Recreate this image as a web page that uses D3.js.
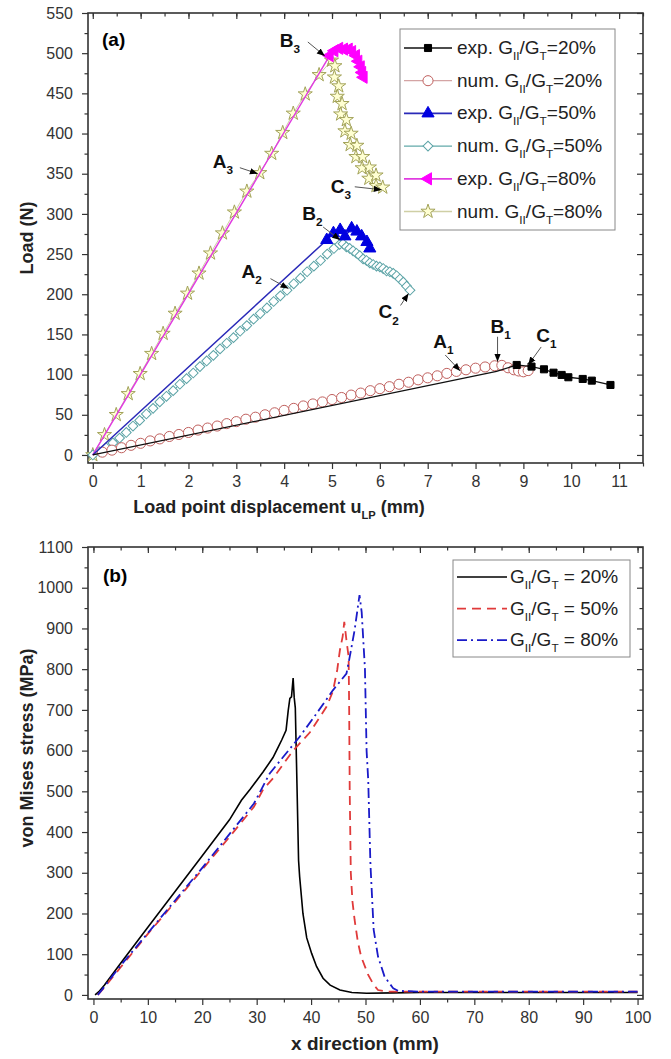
<!DOCTYPE html>
<html><head><meta charset="utf-8">
<script src="https://cdn.jsdelivr.net/npm/d3@7"></script>
<style>
body{margin:0;background:#fff;}
svg{display:block;font-family:Arial,"Liberation Sans",sans-serif;}
.tick text{fill:#333;font-size:16px;}
.tick line{stroke:#333;stroke-width:1.2;}
</style></head><body>
<script>
// ---- panel (a) data : load (N) vs load point displacement (mm)
var exp20X=[0,8.44,8.86,9.17,9.43,9.63,9.80,9.94,10.24,10.43,10.82];
var exp20Y=[0,104,112,110,106.6,102.4,99.6,96.7,94.6,92.5,87.1];
var num20X=[0,0.2,0.4,0.6,0.8,1.0,1.2,1.4,1.6,1.8,2.0,2.2,2.4,2.6,2.8,3.0,3.2,3.4,3.6,3.8,4.0,4.2,4.4,4.6,4.8,5.0,5.2,5.4,5.6,5.8,6.0,6.2,6.4,6.6,6.8,7.0,7.2,7.4,7.6,7.8,8.0,8.2,8.4,8.55,8.68,8.80,8.90,9.00,9.10];
var num20Y=[0,3.5,6,9,12,14.5,17.5,20,23,25.5,28,31,33.5,36,39,41.5,44.5,47,50,52.5,55.5,58,61,63.5,66,69,71.5,74.5,77,80,82.5,85,88,90.5,93.5,96,98.5,101.5,104,106,108,109.5,111,111.5,108.5,106,104.5,103.5,105];
var exp50X=[0,4.89,5.03,5.17,5.27,5.41,5.52,5.62,5.73,5.79];
var exp50Y=[0,267.5,276,280,272,282,278,272,265,257];
var num50X=[0,0.14,0.28,0.42,0.56,0.70,0.84,0.98,1.12,1.26,1.40,1.54,1.68,1.82,1.96,2.10,2.24,2.38,2.52,2.66,2.80,2.94,3.08,3.22,3.36,3.50,3.64,3.78,3.92,4.06,4.20,4.34,4.48,4.62,4.76,4.90,5.04,5.16,5.23,5.30,5.37,5.44,5.51,5.58,5.65,5.72,5.79,5.86,5.93,6.00,6.07,6.14,6.21,6.28,6.35,6.42,6.49,6.56,6.63];
var num50Y=[0,4,9,15,21,28,36,43,51,58,66,73,80,88,95,102,110,117,124,132,139,146,154,161,169,176,183,191,198,205,213,220,228,235,242,250,257,262,263,259,257,254,251,248,244,242,239,237,235,234,232,229,228,226,223,219,215,210,205];
var exp80X=[0,4.95,5.05,5.15,5.25,5.35,5.42,5.50,5.55,5.60,5.63,5.66];
var exp80Y=[0,497,503,506,505,505,502,497,490,483,476,470];
var num80X=[0,0.245,0.49,0.74,0.99,1.23,1.47,1.72,1.98,2.22,2.46,2.71,2.96,3.22,3.49,3.74,3.97,4.19,4.44,4.73,4.99,5.06,5.05,5.14,5.11,5.21,5.18,5.30,5.27,5.40,5.38,5.52,5.50,5.64,5.63,5.78,5.77,5.92,5.92,6.06];
var num80Y=[0,25,50,76,101,126,151,176,201,226,251,276,302,328,351,375,401,425,449,473,491,484,470,459,446,437,424,417,403,400,386,385,371,371,357,358,344,348,335,333];

var topXTicks=[0,1,2,3,4,5,6,7,8,9,10,11];
var topXMinor=[0.5,1.5,2.5,3.5,4.5,5.5,6.5,7.5,8.5,9.5,10.5,11.5];
var topYTicks=[0,50,100,150,200,250,300,350,400,450,500,550];
var topYMinor=[25,75,125,175,225,275,325,375,425,475,525];
var topLegend=[["exp. G","_II","/G","_T","=20%"],["num. G","_II","/G","_T","=20%"],["exp. G","_II","/G","_T","=50%"],["num. G","_II","/G","_T","=50%"],["exp. G","_II","/G","_T","=80%"],["num. G","_II","/G","_T","=80%"]];

// ---- panel (b) data : von Mises stress (MPa) vs x direction (mm)
var s20X=[0.3,1,2,5,10,15,20,25,27.2,28.8,31.2,33.0,34.0,34.6,35.4,35.8,36.1,36.4,36.7,36.9,37.1,37.4,37.7,37.9,38.5,39.2,40.1,41.0,42.2,43.5,45.3,47.5,50.2,55,60,70,80,90,100];
var s20Y=[0,8,24,78,166,254,342,430,478,505,548,583,610,626,650,699,728,732,778,730,705,520,330,290,200,140,102,70,41,24,12,6,4,5,6,6,6,6,6];
var s50X=[0.8,2,3,5,10,15,20,25,29.5,31.2,33,36.7,39.8,42.8,44.0,44.8,45.3,45.8,46.1,46.5,46.9,47.0,47.1,47.3,47.6,48.0,48.6,49.2,50.5,51.5,52.3,54,60,70,80,90,100];
var s50Y=[0,18,35,68,150,228,308,388,462,505,532,600,645,707,745,798,847,880,916,871,830,700,500,300,230,184,130,94,49,25,12,8,8,8,8,8,8];
var s80X=[0.8,2,3,5,10,15,20,25,29.5,32.4,37.9,41,44,46.5,47.1,48,48.9,49.3,49.9,50.2,50.5,50.9,51.5,52.3,53.5,55.1,56,60,70,80,90,100];
var s80Y=[0,20,38,72,152,232,312,395,470,544,634,691,748,789,830,896,982,940,800,600,528,323,160,94,45,16,10,8,8,8,8,8];

var botXTicks=[0,10,20,30,40,50,60,70,80,90,100];
var botXMinor=[5,15,25,35,45,55,65,75,85,95];
var botYTicks=[0,100,200,300,400,500,600,700,800,900,1000,1100];
var botYMinor=[50,150,250,350,450,550,650,750,850,950,1050];
var botLegend=[["G","_II","/G","_T"," = 20%"],["G","_II","/G","_T"," = 50%"],["G","_II","/G","_T"," = 80%"]];

var W=671,H=1059,L=88,R=643;
var svg=d3.select("body").append("svg").attr("width",W).attr("height",H);

svg.append("defs").append("marker").attr("id","arr")
  .attr("viewBox","0 0 10 10").attr("refX",10).attr("refY",5)
  .attr("markerWidth",8).attr("markerHeight",8).attr("markerUnits","userSpaceOnUse")
  .attr("orient","auto")
  .append("path").attr("d","M0,1L10,5L0,9Z").attr("fill","#000");

function rich(t,parts,fs){
  var sub=false;
  parts.forEach(function(p){
    if(p[0]==="_"){
      t.append("tspan").attr("font-size",fs*0.62).attr("dy",fs*0.32).text(p.slice(1));
      sub=true;
    } else {
      t.append("tspan").attr("dy",sub?-fs*0.32:0).text(p);
      sub=false;
    }
  });
  return t;
}

function panel(o){
  var x=d3.scaleLinear().domain(o.xDom).range([L,R]);
  var y=d3.scaleLinear().domain(o.yDom).range([o.bottom,o.top]);
  var g=svg.append("g");
  var maj=6,mn=3.5;
  g.append("g").attr("transform","translate(0,"+o.bottom+")")
    .call(d3.axisBottom(x).tickValues(o.xMinor).tickSize(mn).tickFormat(""));
  g.append("g").attr("transform","translate(0,"+o.bottom+")")
    .call(d3.axisBottom(x).tickValues(o.xTicks).tickSize(maj).tickPadding(7).tickFormat(d3.format("d")));
  g.append("g").attr("transform","translate(0,"+o.top+")")
    .call(d3.axisTop(x).tickValues(o.xMinor.concat(o.xTicks)).tickSize(-mn).tickFormat(""));
  g.append("g").attr("transform","translate(0,"+o.top+")")
    .call(d3.axisTop(x).tickValues(o.xTicks).tickSize(-maj).tickFormat(""));
  g.append("g").attr("transform","translate("+L+",0)")
    .call(d3.axisLeft(y).tickValues(o.yMinor).tickSize(mn).tickFormat(""));
  g.append("g").attr("transform","translate("+L+",0)")
    .call(d3.axisLeft(y).tickValues(o.yTicks).tickSize(maj).tickPadding(9).tickFormat(d3.format("d")));
  g.append("g").attr("transform","translate("+R+",0)")
    .call(d3.axisRight(y).tickValues(o.yMinor).tickSize(-mn).tickFormat(""));
  g.append("g").attr("transform","translate("+R+",0)")
    .call(d3.axisRight(y).tickValues(o.yTicks).tickSize(-maj).tickFormat(""));
  g.selectAll(".domain").remove();
  g.append("rect").attr("x",L).attr("y",o.top).attr("width",R-L).attr("height",o.bottom-o.top)
    .attr("fill","none").attr("stroke","#333").attr("stroke-width",1.6);
  return {x:x,y:y,g:g};
}

function zip(xs,ys){return xs.map(function(v,i){return [v,ys[i]];});}

// ================= panel (a)
var A=panel({xDom:[-0.1,11.5],yDom:[-10,550],top:13,bottom:463,
  xTicks:topXTicks,xMinor:topXMinor,yTicks:topYTicks,yMinor:topYMinor});

var symStar=d3.symbol().type(d3.symbolStar).size(62)();
var topSeries=[
  {xs:num80X,ys:num80Y,line:"#cfcfa5",lw:1,sym:symStar,rot:0,fill:"#ffffd2",stroke:"#a3a35a",from:0},
  {xs:exp80X,ys:exp80Y,line:"#e03ce0",lw:1.5,sym:d3.symbol().type(d3.symbolTriangle).size(64)(),rot:-90,fill:"#ff00ff",stroke:"#ff00ff",from:1},
  {xs:num50X,ys:num50Y,line:"#62aaaa",lw:1,sym:d3.symbol().type(d3.symbolSquare).size(48)(),rot:45,fill:"#fff",stroke:"#5ba3a6",from:0},
  {xs:exp50X,ys:exp50Y,line:"#2a2ab8",lw:1.5,sym:d3.symbol().type(d3.symbolTriangle).size(64)(),rot:0,fill:"#0000e0",stroke:"#0000e0",from:1},
  {xs:num20X,ys:num20Y,line:"#d4a4a4",lw:1,sym:d3.symbol().type(d3.symbolCircle).size(80)(),rot:0,fill:"#fff",stroke:"#c0605e",from:1},
  {xs:exp20X,ys:exp20Y,line:"#111",lw:1.3,sym:d3.symbol().type(d3.symbolSquare).size(50)(),rot:0,fill:"#000",stroke:"#000",from:2}
];
// draw exp lines under the numerical markers where they overlap
var lineA=d3.line().x(function(d){return A.x(d[0]);}).y(function(d){return A.y(d[1]);});
var drawOrder=[0,2,4,1,3,5];
drawOrder.forEach(function(k){
  var s=topSeries[k];
  var pts=zip(s.xs,s.ys);
  A.g.append("path").attr("d",lineA(pts)).attr("fill","none").attr("stroke",s.line).attr("stroke-width",s.lw);
  A.g.selectAll(null).data(pts.slice(s.from)).enter().append("path")
    .attr("d",s.sym)
    .attr("transform",function(d){return "translate("+A.x(d[0])+","+A.y(d[1])+") rotate("+s.rot+")";})
    .attr("fill",s.fill).attr("stroke",s.stroke).attr("stroke-width",1);
});

// annotations: [label, sub, tip x, tip y, text dx, text dy, arrow start dx, dy]
var annA=[["A","3",3.45,350,-45,-6,-18,-6],["B","3",4.85,496.5,-45,-9,-17,-14],["C","3",6.04,330,-51,3,-27,-3],
  ["A","2",4.09,207,-47,-11,-18,-10],["B","2",5.17,267.5,-38,-20,-17,-13],["C","2",6.6,201,-30,25,-8,12],
  ["A","1",7.68,104.5,-27,-23,-15,-16],["B","1",8.46,116,-7,-29,0,-25],["C","1",9.1,112,8,-23,13,-18]];
annA.forEach(function(a){
  var tx=A.x(a[2]),ty=A.y(a[3]);
  A.g.append("line").attr("x1",tx+a[6]).attr("y1",ty+a[7]).attr("x2",tx).attr("y2",ty)
    .attr("stroke","#555").attr("stroke-width",1).attr("marker-end","url(#arr)");
  rich(A.g.append("text").attr("x",tx+a[4]).attr("y",ty+a[5]).attr("font-size",19).attr("font-weight","bold").attr("fill","#111"),
    [a[0],"_"+a[1]],19);
});

A.g.append("text").attr("x",102).attr("y",46).attr("font-size",19).attr("font-weight","bold").text("(a)");

// legend (a)
var legA=A.g.append("g");
legA.append("rect").attr("x",400).attr("y",29).attr("width",215).attr("height",201)
  .attr("fill","#fff").attr("stroke","#888").attr("stroke-width",1);
var legOrder=[5,4,3,2,1,0];
topLegend.forEach(function(parts,i){
  var s=topSeries[legOrder[i]];
  var yy=48+i*32.7;
  legA.append("line").attr("x1",404).attr("x2",452).attr("y1",yy).attr("y2",yy)
    .attr("stroke",s.line).attr("stroke-width",s.lw+0.3);
  legA.append("path").attr("d",s.sym).attr("transform","translate(428,"+yy+") rotate("+s.rot+")")
    .attr("fill",s.fill).attr("stroke",s.stroke);
  rich(legA.append("text").attr("x",457).attr("y",yy+6).attr("font-size",19).attr("fill","#222"),parts,19);
});

svg.append("text").attr("transform","translate(33,238) rotate(-90)").attr("text-anchor","middle")
  .attr("font-size",18).attr("font-weight","bold").attr("fill","#222").text("Load (N)");
rich(svg.append("text").attr("x",279).attr("y",513).attr("text-anchor","middle")
  .attr("font-size",18).attr("font-weight","bold").attr("fill","#222"),["Load point displacement u","_LP"," (mm)"],18);

// ================= panel (b)
var B=panel({xDom:[-1,101],yDom:[-10,1100],top:547,bottom:999,
  xTicks:botXTicks,xMinor:botXMinor,yTicks:botYTicks,yMinor:botYMinor});
var botSeries=[
  {xs:s20X,ys:s20Y,color:"#000",dash:null,lw:1.6},
  {xs:s50X,ys:s50Y,color:"#e03a3a",dash:"9,6",lw:1.8},
  {xs:s80X,ys:s80Y,color:"#1a1ac8",dash:"10,4,2,4",lw:1.8}
];
var lineB=d3.line().x(function(d){return B.x(d[0]);}).y(function(d){return B.y(d[1]);});
botSeries.forEach(function(s){
  B.g.append("path").attr("d",lineB(zip(s.xs,s.ys))).attr("fill","none")
    .attr("stroke",s.color).attr("stroke-width",s.lw).attr("stroke-dasharray",s.dash);
});
B.g.append("text").attr("x",103).attr("y",582).attr("font-size",19).attr("font-weight","bold").text("(b)");

var legB=B.g.append("g");
legB.append("rect").attr("x",453).attr("y",560).attr("width",177).attr("height",97)
  .attr("fill","#fff").attr("stroke","#888").attr("stroke-width",1);
botLegend.forEach(function(parts,i){
  var s=botSeries[i];
  var yy=577+i*31.6;
  legB.append("line").attr("x1",457).attr("x2",507).attr("y1",yy).attr("y2",yy)
    .attr("stroke",s.color).attr("stroke-width",s.lw).attr("stroke-dasharray",s.dash);
  rich(legB.append("text").attr("x",510).attr("y",yy+6).attr("font-size",19).attr("fill","#222"),parts,19);
});

svg.append("text").attr("transform","translate(33,748) rotate(-90)").attr("text-anchor","middle")
  .attr("font-size",18).attr("font-weight","bold").attr("fill","#222").text("von Mises stress (MPa)");
svg.append("text").attr("x",365).attr("y",1050).attr("text-anchor","middle")
  .attr("font-size",19).attr("font-weight","bold").attr("fill","#222").text("x direction (mm)");
</script></body></html>
